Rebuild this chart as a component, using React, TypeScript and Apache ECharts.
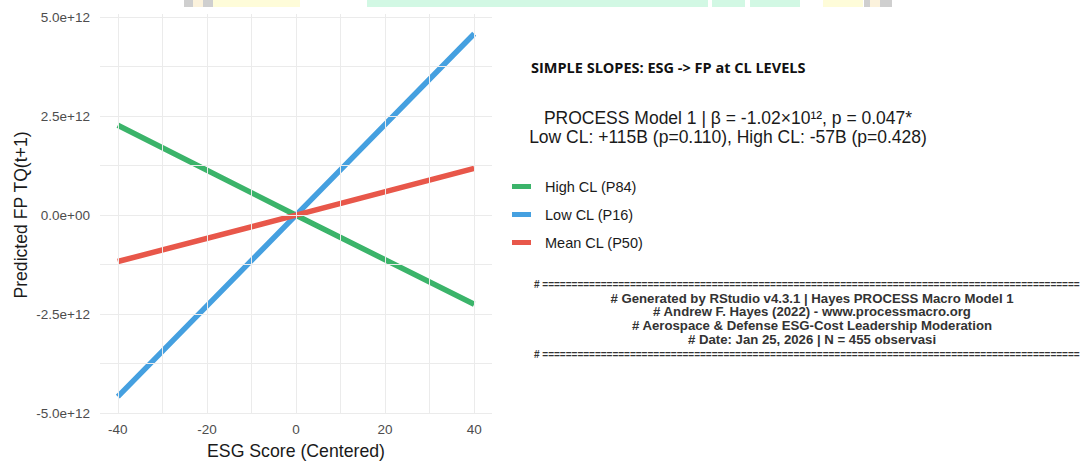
import React, { useEffect, useRef } from "react";
import * as echarts from "echarts";

const esgX = [-40, 0, 40];
const highCL = [2.27e12, 0, -2.25e12];
const lowCL = [-4.58e12, 0, 4.58e12];
const meanCL = [-1.17e12, 0, 1.18e12];

const seriesNames = ["High CL (P84)", "Low CL (P16)", "Mean CL (P50)"];
const seriesColors = ["#3bb46a", "#45a0e0", "#e8574a"];

const xTicks = [-40, -20, 0, 20, 40];
const xMinor = [-30, -10, 10, 30];
const yTicks = [-5e12, -2.5e12, 0, 2.5e12, 5e12];
const yTickLabels = ["-5.0e+12", "-2.5e+12", "0.0e+00", "2.5e+12", "5.0e+12"];
const yMinor = [-3.75e12, -1.25e12, 1.25e12, 3.75e12];

const titleText = "SIMPLE SLOPES: ESG -> FP at CL LEVELS";
const subLine1 = "PROCESS Model 1 | β = -1.02×10¹², p = 0.047*";
const subLine2 = "Low CL: +115B (p=0.110), High CL: -57B (p=0.428)";
const ruleText = "# " + "============================================================================================";
const footerLines = [
  "# Generated by RStudio v4.3.1 | Hayes PROCESS Macro Model 1",
  "# Andrew F. Hayes (2022) - www.processmacro.org",
  "# Aerospace & Defense ESG-Cost Leadership Moderation",
  "# Date: Jan 25, 2026 | N = 455 observasi",
];

const xTitle = "ESG Score (Centered)";
const yTitle = "Predicted FP TQ(t+1)";

export default function App() {
  const ref = useRef<HTMLDivElement>(null);
  useEffect(() => {
    document.body.style.margin = "0";
    const chart = echarts.init(ref.current!, null, { renderer: "svg" });
    const mkData = (vals: number[]) => esgX.map((x, i) => [x, vals[i]]);
    const gridMarkLines = [
      ...xTicks.map((v) => ({ xAxis: v })),
      ...xMinor.map((v) => ({ xAxis: v })),
      ...yTicks.map((v) => ({ yAxis: v })),
      ...yMinor.map((v) => ({ yAxis: v })),
    ];
    const footerGraphics: any[] = [];
    footerGraphics.push({
      type: "text", left: 534, top: 279,
      style: { text: ruleText, font: "bold 10px 'Liberation Sans'", fill: "#333" },
    });
    footerLines.forEach((t, i) => {
      footerGraphics.push({
        type: "text", x: 812, y: 298 + i * 13.7,
        style: { text: t, font: "bold 13.2px 'Liberation Sans'", fill: "#333", align: "center", verticalAlign: "middle" },
      });
    });
    footerGraphics.push({
      type: "text", left: 534, top: 349,
      style: { text: ruleText, font: "bold 10px 'Liberation Sans'", fill: "#333" },
    });
    const artefacts = [
      [184, 193, "#cfcfcf"], [193, 203, "#fbf2dc"], [203, 213, "#cfcfcf"], [213, 300, "#fefcd9"],
      [367, 708, "#d2f8e4"], [712, 745, "#d2f8e4"], [750, 800, "#d2f8e4"],
      [823, 863, "#fefcd9"], [864, 870, "#cfcfcf"], [870, 880, "#fbf2dc"], [880, 892, "#cfcfcf"],
    ];
    const artefactGraphics = artefacts.map(([a, b, c]) => ({
      type: "rect", shape: { x: a as number, y: 0, width: (b as number) - (a as number), height: 7 },
      style: { fill: c as string }, silent: true,
    }));
    chart.setOption({
      animation: false,
      backgroundColor: "#ffffff",
      textStyle: { fontFamily: "'Liberation Sans', Arial, sans-serif" },
      grid: { left: 100, right: 595, top: 14, bottom: 48, containLabel: false },
      xAxis: {
        type: "value", min: -44, max: 44,
        axisLine: { show: false }, axisTick: { show: false }, splitLine: { show: false },
        axisLabel: { customValues: xTicks, color: "#4d4d4d", fontSize: 13.5, margin: 8, fontFamily: "'Liberation Sans'" },
      },
      yAxis: {
        type: "value", min: -5.02e12, max: 5.08e12,
        axisLine: { show: false }, axisTick: { show: false }, splitLine: { show: false },
        axisLabel: {
          customValues: yTicks, color: "#4d4d4d", fontSize: 13.5, margin: 10, fontFamily: "'Liberation Sans'",
          formatter: (v: number) => {
            const i = yTicks.findIndex((t) => Math.abs(t - v) < 1e9);
            return i >= 0 ? yTickLabels[i] : "";
          },
        },
      },
      legend: {
        orient: "vertical", left: 512, top: 179, padding: 0,
        data: seriesNames, icon: "rect", itemWidth: 19, itemHeight: 5, itemGap: 13,
        textStyle: { fontSize: 14.5, color: "#1a1a1a", padding: [0, 0, 0, 9], fontFamily: "'Liberation Sans'" },
      },
      graphic: [
        ...artefactGraphics,
        { type: "text", left: 531, top: 60, style: { text: titleText, font: "bold 14.5px 'Open Sans'", fill: "#111" } },
        { type: "text", x: 728, y: 118, style: { text: subLine1, font: "17.5px 'Liberation Sans'", fill: "#1a1a1a", align: "center", verticalAlign: "middle" } },
        { type: "text", x: 728, y: 137, style: { text: subLine2, font: "17.5px 'Liberation Sans'", fill: "#1a1a1a", align: "center", verticalAlign: "middle" } },
        { type: "text", x: 296, y: 451, style: { text: xTitle, font: "17.7px 'Liberation Sans'", fill: "#1a1a1a", align: "center", verticalAlign: "middle" } },
        { type: "text", x: 21, y: 215, rotation: Math.PI / 2, style: { text: yTitle, font: "17.6px 'Liberation Sans'", fill: "#1a1a1a", align: "center", verticalAlign: "middle" } },
        ...footerGraphics,
      ],
      series: [
        {
          name: "__grid", type: "line", data: [], silent: true,
          markLine: {
            silent: true, symbol: "none", label: { show: false },
            lineStyle: { color: "#ebebeb", type: "solid", width: 1 },
            emphasis: { disabled: true },
            data: gridMarkLines,
          },
        },
        ...[highCL, lowCL, meanCL].map((vals, i) => ({
          name: seriesNames[i], type: "line", data: mkData(vals),
          showSymbol: false, symbol: "none",
          lineStyle: { color: seriesColors[i], width: 5.5 },
          itemStyle: { color: seriesColors[i] },
        })),
      ],
    });
    return () => chart.dispose();
  }, []);
  return <div ref={ref} style={{ width: 1087, height: 462 }} />;
}
